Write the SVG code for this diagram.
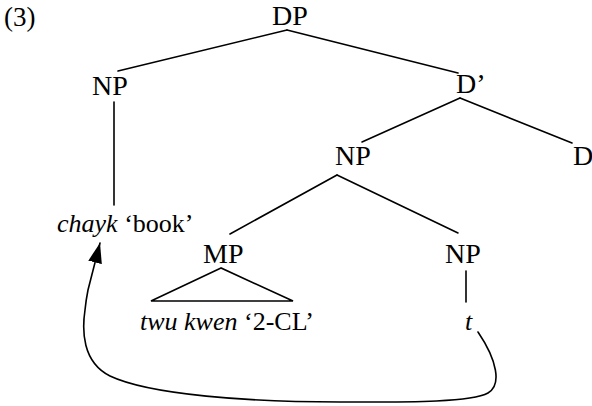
<svg xmlns="http://www.w3.org/2000/svg" width="592" height="406" viewBox="0 0 592 406">
<style>
  .cat { font-size: 28px; }
  .lex { font-size: 26px; }
  .it { font-style: italic; }
</style>
<defs>
  <marker id="arrow" markerUnits="userSpaceOnUse" markerWidth="20" markerHeight="14" refX="20" refY="7" orient="auto">
    <path d="M0,0 L20,7 L0,14 z" fill="#000"/>
  </marker>
</defs>
<rect width="592" height="406" fill="#fff"/>
<g font-family="Liberation Serif, Times New Roman, serif" fill="#000">
<text x="4" y="26" font-size="27">(3)</text>
<g id="connectors" stroke="#000" stroke-width="1.6" fill="none" stroke-linecap="round">
  <line x1="287" y1="30" x2="118" y2="71"/>
  <line x1="287" y1="30" x2="458" y2="73"/>
  <line x1="114" y1="102" x2="114" y2="205"/>
  <line x1="460" y1="98" x2="362" y2="142"/>
  <line x1="460" y1="98" x2="572" y2="143"/>
  <line x1="337" y1="175" x2="230" y2="234"/>
  <line x1="337" y1="175" x2="458" y2="233"/>
  <line x1="466" y1="271" x2="466" y2="302"/>
  <path d="M478,332 C497,360 502,385 488,393 C470,403 400,402 340,402 C250,402 150,395 110,376 C82,362 82,330 85,310 C86,300 87,295 88,290 L100,243" marker-end="url(#arrow)"/>
</g>
<g id="DP"><text class="cat" x="272" y="25">DP</text></g>
<g id="NP1"><text class="cat" x="92" y="95">NP</text></g>
<g id="Dbar"><text class="cat" x="456" y="93">D’</text></g>
<g id="NP2"><text class="cat" x="335" y="165">NP</text></g>
<g id="D"><text class="cat" x="573" y="165">D</text></g>
<g id="chayk"><text class="lex" x="57" y="232"><tspan class="it">chayk</tspan> ‘book’</text></g>
<g id="MP">
  <text class="cat" x="203" y="263">MP</text>
  <polygon points="221,268 151,301 293,301" stroke="#000" stroke-width="1.6" fill="none"/>
</g>
<g id="NP3"><text class="cat" x="445" y="263">NP</text></g>
<g id="twukwen"><text class="lex" x="140" y="330"><tspan class="it">twu kwen</tspan> ‘2-CL’</text></g>
<g id="t"><text class="lex it" x="465" y="330">t</text></g>
</g>
</svg>
